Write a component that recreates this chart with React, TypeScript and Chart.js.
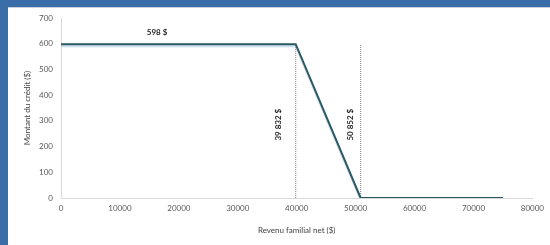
import React, { useEffect, useRef } from "react";
import { Chart, registerables } from "chart.js";

Chart.register(...registerables);

const incomeX = [0, 39832, 50852, 75000];
const creditY = [598, 598, 0, 0];
const thresholds = [39832, 50852];
const thresholdLabels = ["39 832 $", "50 852 $"];
const maxCreditLabel = "598 $";
const maxCreditLabelX = 16300;
const xTicks = [0, 10000, 20000, 30000, 40000, 50000, 60000, 70000, 80000];
const yTicks = [0, 100, 200, 300, 400, 500, 600, 700];
const xTitle = "Revenu familial net ($)";
const yTitle = "Montant du crédit ($)";

const FONT = "Lato, 'Open Sans', 'DejaVu Sans', sans-serif";

export default function App() {
  const ref = useRef<HTMLCanvasElement | null>(null);
  useEffect(() => {
    if (!ref.current) return;
    const labelPlugin = {
      id: "labels",
      beforeDatasetDraw(chart: any, args: any) {
        if (args.index === 0) {
          const ctx = chart.ctx;
          ctx.save();
          ctx.shadowColor = "rgba(150,195,220,0.55)";
          ctx.shadowOffsetY = 2;
          ctx.shadowBlur = 1;
        }
      },
      afterDatasetDraw(chart: any, args: any) {
        if (args.index === 0) chart.ctx.restore();
      },
      afterDraw(chart: any) {
        const ctx = chart.ctx;
        const xs = chart.scales.x;
        const ys = chart.scales.y;
        ctx.save();
        ctx.fillStyle = "#262626";
        ctx.font = `bold 8px ${FONT}`;
        ctx.textAlign = "center";
        ctx.textBaseline = "middle";
        ctx.fillText(maxCreditLabel, xs.getPixelForValue(maxCreditLabelX), ys.getPixelForValue(creditY[0]) - 12);
        const offsets = [-17, -10];
        thresholds.forEach((t, i) => {
          ctx.save();
          ctx.translate(xs.getPixelForValue(t) + offsets[i], ys.getPixelForValue(285));
          ctx.rotate(-Math.PI / 2);
          ctx.fillText(thresholdLabels[i], 0, 0);
          ctx.restore();
        });
        ctx.restore();
      },
    };
    const datasets: any[] = [
      {
        data: incomeX.map((x, i) => ({ x, y: creditY[i] })),
        borderColor: "#2e5862",
        borderWidth: 2,
        pointRadius: 0,
        tension: 0,
        order: 0,
      },
      ...thresholds.map((t) => ({
        data: [
          { x: t, y: 0 },
          { x: t, y: creditY[0] },
        ],
        borderColor: "#7f7f7f",
        borderWidth: 1,
        borderDash: [1, 1],
        pointRadius: 0,
        order: 1,
      })),
    ];
    const chart = new Chart(ref.current, {
      type: "line",
      data: { datasets },
      options: {
        animation: false,
        responsive: false,
        maintainAspectRatio: false,
        layout: { padding: { left: 8, top: 18, right: 16, bottom: 10 } },
        plugins: { legend: { display: false }, tooltip: { enabled: false } },
        scales: {
          x: {
            type: "linear",
            min: 0,
            max: 80000,
            afterBuildTicks: (s: any) => {
              s.ticks = xTicks.map((v) => ({ value: v }));
            },
            afterFit: (s: any) => {
              s.height = 37;
            },
            grid: { display: false, drawTicks: false },
            border: { display: true, color: "#d9d9d9" },
            ticks: {
              color: "#595959",
              font: { size: 8, family: FONT },
              padding: 6,
              maxRotation: 0,
              autoSkip: false,
              callback: (v: any) => String(v),
            },
            title: {
              display: true,
              text: xTitle,
              color: "#404040",
              font: { size: 8, family: FONT },
              padding: { top: 6, bottom: 0 },
            },
          },
          y: {
            min: 0,
            max: 700,
            afterBuildTicks: (s: any) => {
              s.ticks = yTicks.map((v) => ({ value: v }));
            },
            afterFit: (s: any) => {
              s.width = 53;
            },
            grid: { display: false, drawTicks: false },
            border: { display: true, color: "#d9d9d9" },
            ticks: {
              color: "#595959",
              font: { size: 8, family: FONT },
              padding: 8,
              callback: (v: any) => String(v),
            },
            title: {
              display: true,
              text: yTitle,
              color: "#404040",
              font: { size: 8, family: FONT },
              padding: { top: 15, bottom: 4 },
            },
          },
        },
      },
      plugins: [labelPlugin],
    });
    return () => chart.destroy();
  }, []);
  return (
    <div style={{ position: "fixed", left: 0, top: 0, width: 550, height: 245, background: "#ffffff", overflow: "hidden" }}>
      <canvas ref={ref} width={550} height={245} style={{ position: "absolute", left: 0, top: 0 }} />
      <div style={{ position: "absolute", left: 0, top: 0, width: 550, height: 7, background: "#3b6ea8", borderBottom: "1px solid #c9d3dd" }} />
      <div style={{ position: "absolute", left: 0, top: 0, width: 8, height: 245, background: "#3b6ea8" }} />
    </div>
  );
}
